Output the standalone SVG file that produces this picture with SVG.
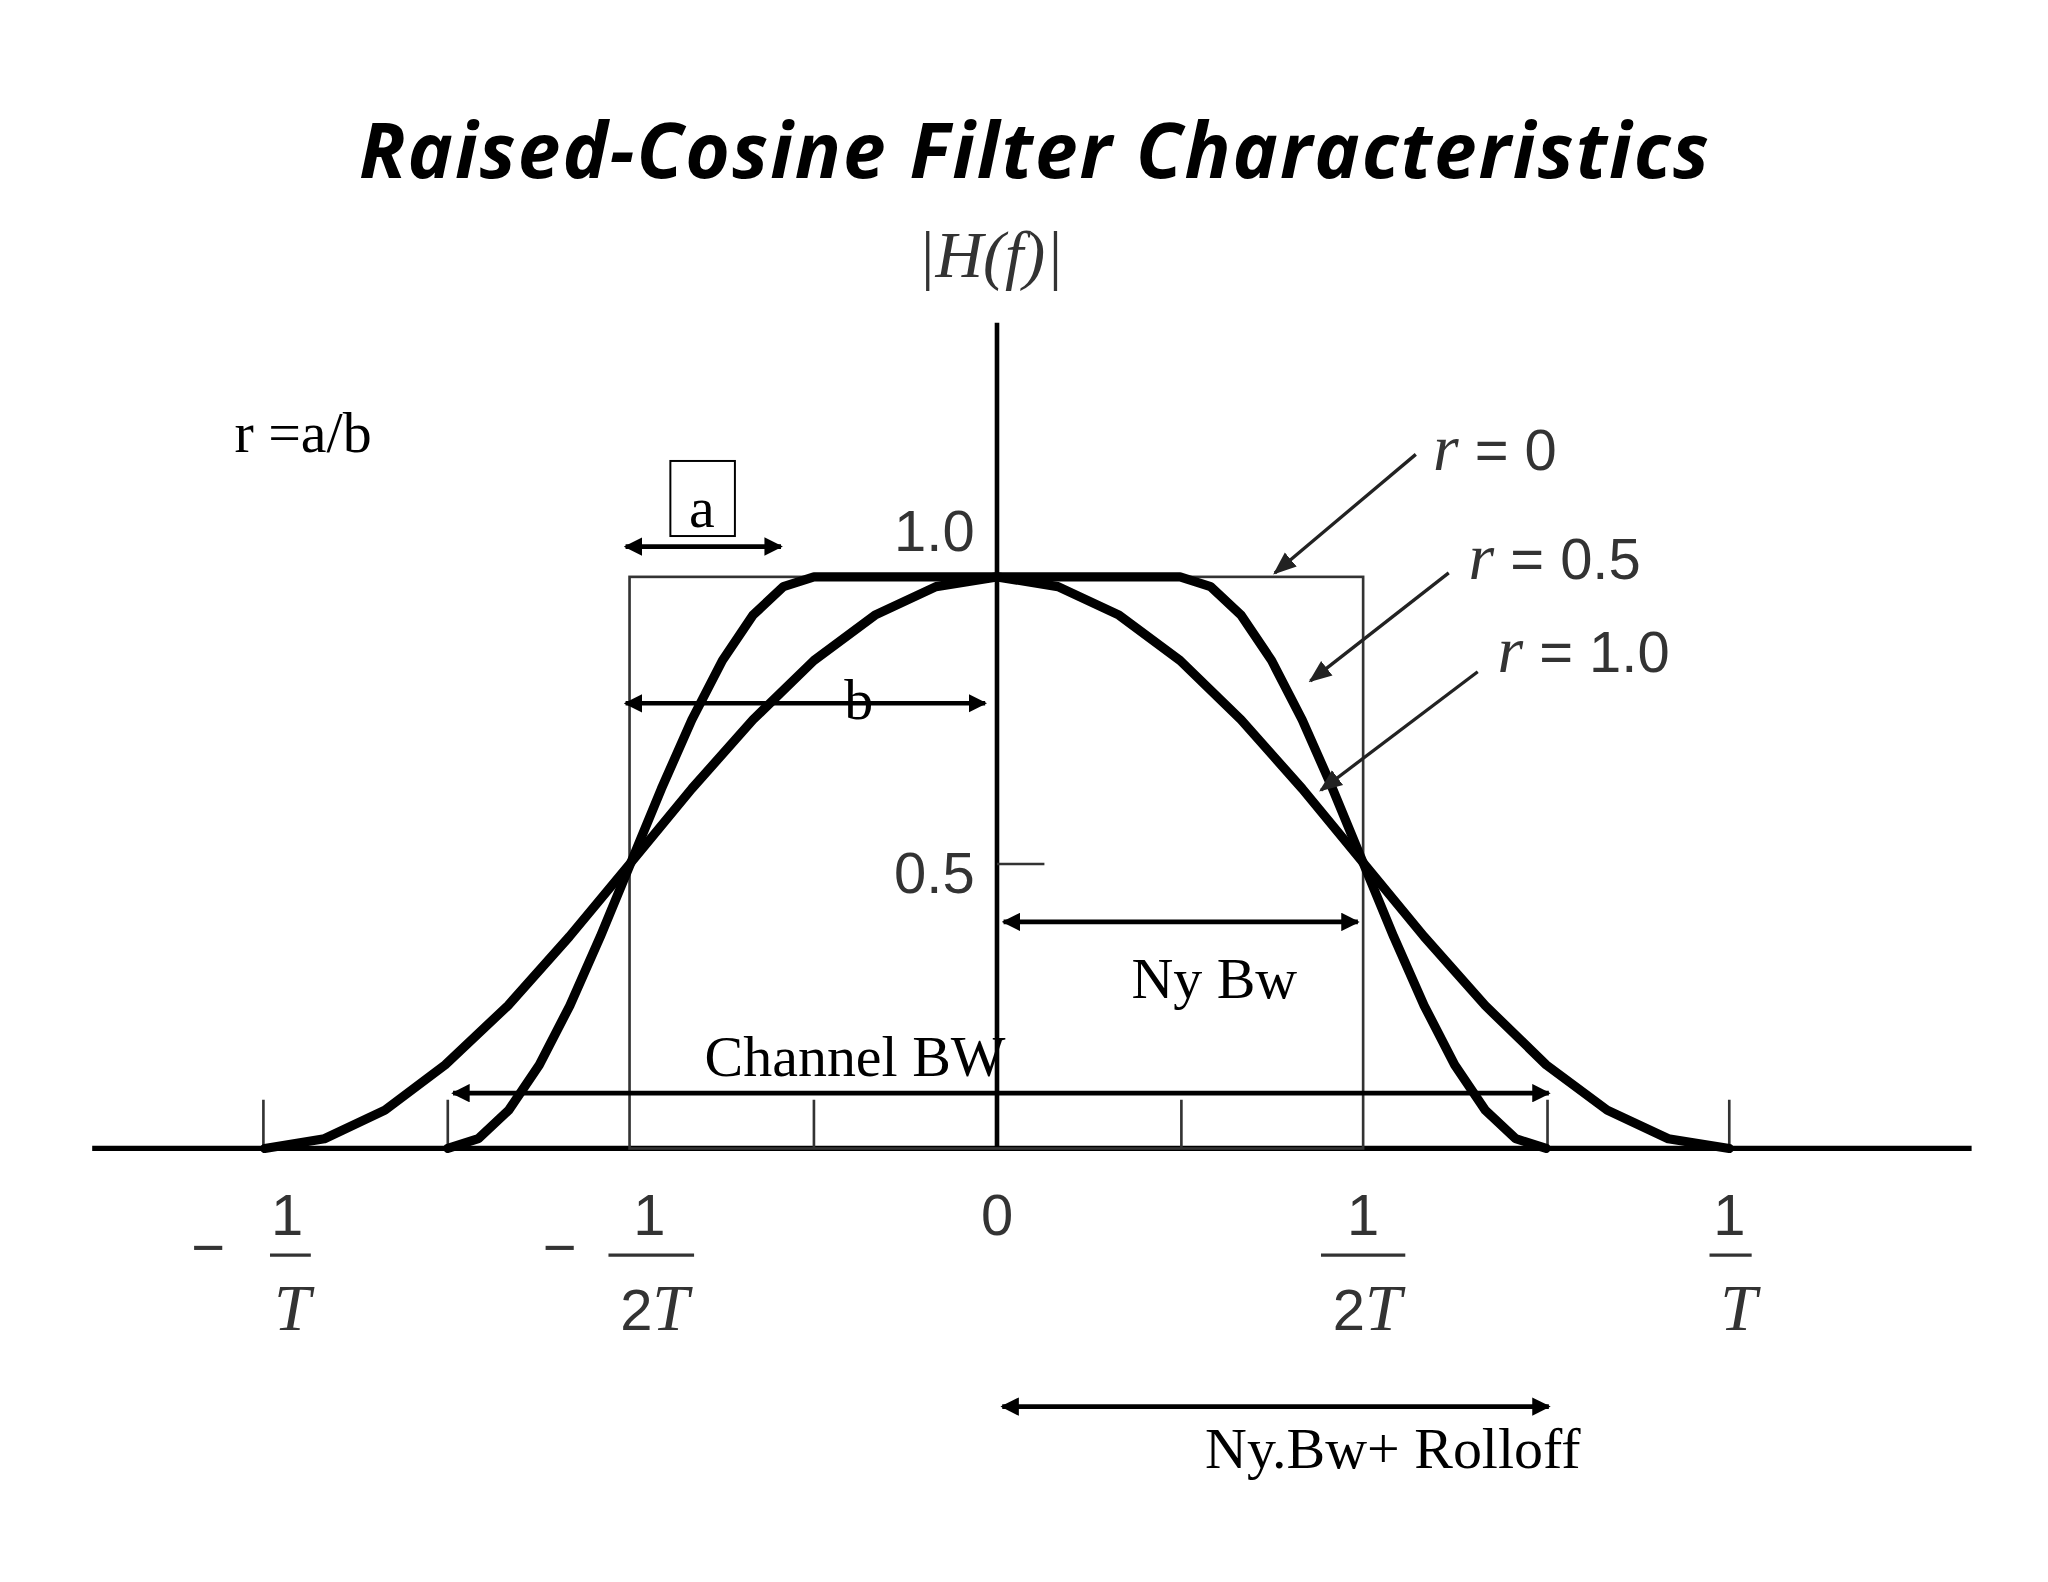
<svg xmlns="http://www.w3.org/2000/svg" width="2048" height="1582" viewBox="0 0 2048 1582">
<style>
.tt{font-family:"Open Sans","Liberation Sans",sans-serif;font-weight:bold;font-style:italic;font-size:58px;fill:#000}
.num{font-family:"Liberation Sans",Arial,sans-serif;font-size:44px;fill:#333}
.it{font-family:"Liberation Serif","Times New Roman",serif;font-style:italic;font-size:50px;fill:#333}
.tm{font-family:"Liberation Serif","Times New Roman",serif;font-size:44px;fill:#000}
.crv{fill:none;stroke:#000;stroke-width:7;stroke-linejoin:round;stroke-linecap:round}
.thin{fill:none;stroke:#333;stroke-width:2}
.ar{stroke:#000;stroke-width:3.5;fill:none;marker-start:url(#ah);marker-end:url(#ah)}
.ld{stroke:#222;stroke-width:2.5;fill:none;marker-end:url(#ah2)}
</style>
<defs>
<marker id="ah" viewBox="0 0 10 10" refX="9" refY="5" markerWidth="4" markerHeight="4" orient="auto-start-reverse"><path d="M0,0 L10,5 L0,10 z" fill="#000"/></marker>
<marker id="ah2" viewBox="0 0 10 10" refX="9" refY="5" markerWidth="7" markerHeight="7" orient="auto"><path d="M0,1 L10,5 L0,9 z" fill="#222"/></marker>
</defs>
<rect width="2048" height="1582" fill="#fff"/>
<g transform="scale(1.31704)">
<g id="title"><text class="tt" x="785" y="135" text-anchor="middle" textLength="1025">Raised-Cosine Filter Characteristics</text></g>
<g id="axes">
<text class="it" x="752" y="210" text-anchor="middle">|<tspan>H</tspan>(<tspan>f</tspan>)|</text>
<line x1="757" y1="245" x2="757" y2="872" stroke="#000" stroke-width="3.5"/>
<line x1="70" y1="872" x2="1497" y2="872" stroke="#000" stroke-width="4"/>
<path class="thin" d="M200,835V872M340,835V872M618,835V872M897,835V872M1175,835V872M1313,835V872M757,656H793"/>
<text class="num" x="740" y="418" text-anchor="end">1.0</text>
<text class="num" x="740" y="678" text-anchor="end">0.5</text>
<text class="num" x="757" y="938" text-anchor="middle">0</text>
<g id="lbl-m1T"><text class="num" x="158" y="962" text-anchor="middle">−</text><text class="num" x="218" y="938" text-anchor="middle">1</text><line x1="205" y1="953" x2="236" y2="953" stroke="#333" stroke-width="2.5"/><text class="it" x="222" y="1010" text-anchor="middle">T</text></g>
<g id="lbl-m2T"><text class="num" x="425" y="962" text-anchor="middle">−</text><text class="num" x="493" y="938" text-anchor="middle">1</text><line x1="462" y1="953" x2="527" y2="953" stroke="#333" stroke-width="2.5"/><text x="497" y="1010" text-anchor="middle"><tspan class="num">2</tspan><tspan class="it">T</tspan></text></g>
<g id="lbl-p2T"><text class="num" x="1035" y="938" text-anchor="middle">1</text><line x1="1003" y1="953" x2="1067" y2="953" stroke="#333" stroke-width="2.5"/><text x="1038" y="1010" text-anchor="middle"><tspan class="num">2</tspan><tspan class="it">T</tspan></text></g>
<g id="lbl-p1T"><text class="num" x="1313" y="938" text-anchor="middle">1</text><line x1="1298" y1="953" x2="1330" y2="953" stroke="#333" stroke-width="2.5"/><text class="it" x="1320" y="1010" text-anchor="middle">T</text></g>
</g>
<g id="r0"><rect class="thin" x="478" y="438" width="557" height="434"/></g>
<g id="r05"><polyline class="crv" points="340,872 363.2,864.6 386.3,842.9 409.5,808.5 432.7,763.5 455.8,711.2 479,655 502.2,598.8 525.3,546.5 548.5,501.5 571.7,467.1 594.8,445.4 618,438 896,438 919.2,445.4 942.3,467.1 965.5,501.5 988.7,546.5 1011.8,598.8 1035,655 1058.2,711.2 1081.3,763.5 1104.5,808.5 1127.7,842.9 1150.8,864.6 1174,872"/></g>
<g id="r1"><polyline class="crv" points="201,872 246.3,864.6 292.3,842.9 338,808.5 385.7,763.5 432.3,711.2 479,655 525.3,598.8 571.7,546.5 618,501.5 664.3,467.1 710.7,445.4 757,438 803.3,445.4 849.7,467.1 896,501.5 942.3,546.5 988.7,598.8 1035,655 1081.3,711.2 1127.7,763.5 1174,808.5 1220.3,842.9 1266.7,864.6 1313,872"/></g>
<g id="rlabels">
<text x="1088" y="357"><tspan class="it">r</tspan><tspan class="num"> = 0</tspan></text>
<text x="1115" y="440"><tspan class="it">r</tspan><tspan class="num"> = 0.5</tspan></text>
<text x="1137" y="510"><tspan class="it">r</tspan><tspan class="num"> = 1.0</tspan></text>
</g>
<g id="connectors">
<line class="ld" x1="1075" y1="345" x2="968" y2="435"/>
<line class="ld" x1="1100" y1="435" x2="995" y2="517"/>
<line class="ld" x1="1122" y1="510" x2="1003" y2="600"/>
<line class="ar" x1="475" y1="415" x2="593" y2="415"/>
<line class="ar" x1="475" y1="534" x2="748" y2="534"/>
<line class="ar" x1="762" y1="700" x2="1031" y2="700"/>
<line class="ar" x1="344" y1="830" x2="1176" y2="830"/>
<line class="ar" x1="761" y1="1068" x2="1176" y2="1068"/>
</g>
<g id="annot">
<text class="tm" x="178" y="343">r =a/b</text>
<rect x="509" y="350" width="49" height="57" fill="none" stroke="#000" stroke-width="1.5"/>
<text class="tm" x="533" y="400" text-anchor="middle">a</text>
<text class="tm" x="652" y="546" text-anchor="middle">b</text>
<text class="tm" x="922" y="758" text-anchor="middle">Ny Bw</text>
<text class="tm" x="535" y="817">Channel BW</text>
<text class="tm" x="915" y="1115">Ny.Bw+ Rolloff</text>
</g>
</g>
</svg>
